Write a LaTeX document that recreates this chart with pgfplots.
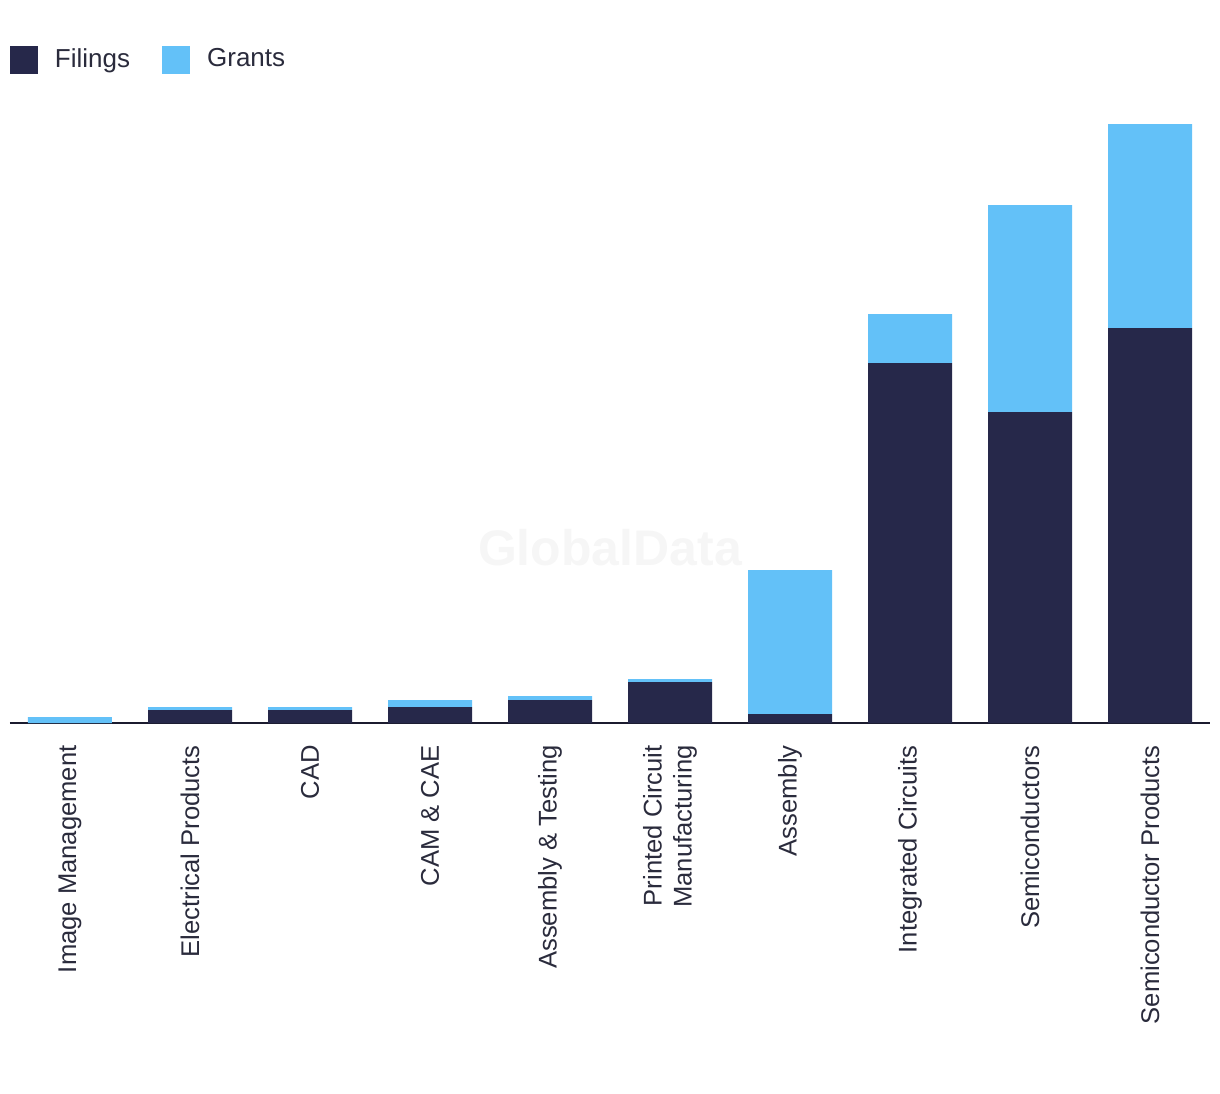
\documentclass[border=0pt]{standalone}
\usepackage{pgfplots}
\pgfplotsset{compat=1.18}
\usepackage{fontspec}
\setmainfont{Liberation Sans}
\definecolor{navy}{HTML}{26284A}
\definecolor{sky}{HTML}{63C1F8}
\definecolor{txt}{HTML}{2A2B3C}
\definecolor{base}{HTML}{1B1B2F}
\begin{document}
\begin{tikzpicture}
\begin{axis}[
  name=ax,
  at={(0,0)}, anchor=south west,
  scale only axis,
  width=600pt, height=361.5pt,
  xmin=-0.5, xmax=9.5, ymin=0, ymax=723,
  ybar stacked, bar width=42pt,
  axis x line=bottom, axis y line=none,
  axis line style={-, draw=base, line width=1pt},
  xtick=data, major tick length=0pt,
  xticklabels={Image Management,Electrical Products,CAD,CAM \& CAE,Assembly \& Testing,{Printed Circuit\\Manufacturing},Assembly,Integrated Circuits,Semiconductors,Semiconductor Products},
  xticklabel shift=11pt,
  xticklabel style={rotate=90, anchor=east, align=right, inner sep=0pt, text=txt, font=\fontsize{12.8}{15}\selectfont},
  legend style={at={(rel axis cs:0,0.9364)}, anchor=north west, draw=none, fill=none, inner sep=0pt, outer sep=0pt,
    nodes={inner sep=0pt, text=txt, font=\fontsize{13}{15}\selectfont},
    /tikz/every odd column/.append style={column sep=8.5pt},
    /tikz/every even column/.append style={column sep=16pt}},
  legend columns=2, legend cell align=left,
  clip=false,
]
\node[text=gray!7, font=\bfseries\fontsize{25}{30}\selectfont] at (rel axis cs:0.5,0.242) {GlobalData};
\addplot[fill=navy, draw=none, legend image code/.code={\fill[navy] (0pt,-7.35pt) rectangle (14pt,6.65pt);}] coordinates {(0,0) (1,13) (2,13) (3,16) (4,23) (5,41) (6,9) (7,360) (8,311) (9,395)};
\addplot[fill=sky, draw=none, legend image code/.code={\fill[sky] (0pt,-7.35pt) rectangle (14pt,6.65pt);}] coordinates {(0,6) (1,3) (2,3) (3,7) (4,4) (5,3) (6,144) (7,49) (8,207) (9,204)};
\legend{Filings,Grants}
\end{axis}
\pgfresetboundingbox
\path ([shift={(-5pt,-185.5pt)}]ax.south west) rectangle ([shift={(5pt,0pt)}]ax.north east);
\end{tikzpicture}
\end{document}
